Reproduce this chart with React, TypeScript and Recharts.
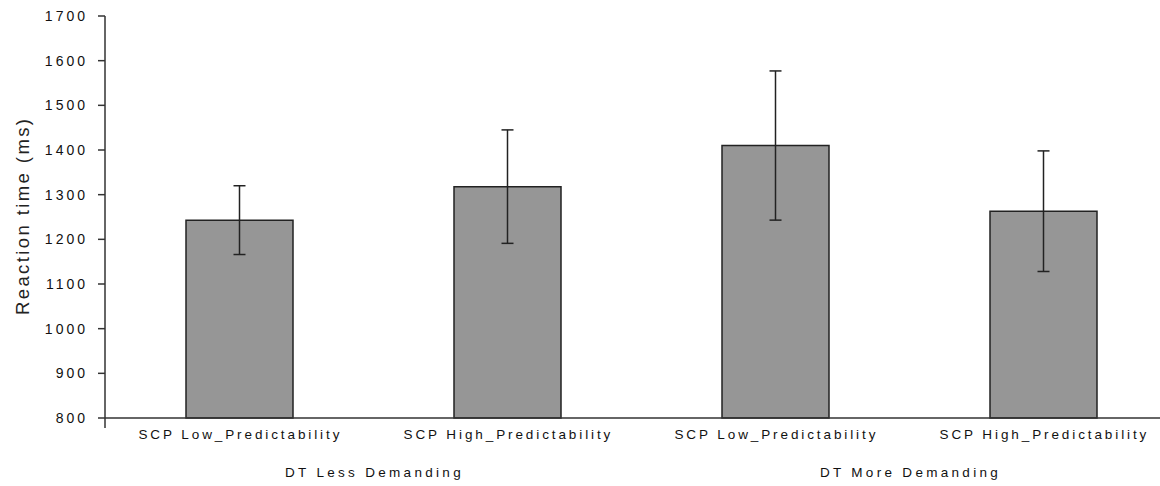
import { BarChart, Bar, XAxis, YAxis, ErrorBar } from 'recharts';

const categories = ['SCP Low_Predictability', 'SCP High_Predictability', 'SCP Low_Predictability', 'SCP High_Predictability'];
const groups = ['DT Less Demanding', 'DT Less Demanding', 'DT More Demanding', 'DT More Demanding'];
const meanRT = [1243, 1318, 1410, 1263];
const errRT = [77, 127, 167, 135];
const yTicks = [800, 900, 1000, 1100, 1200, 1300, 1400, 1500, 1600, 1700];

const data = categories.map((c, i) => ({ cat: c, group: groups[i], rt: meanRT[i], err: errRT[i] }));

const font = '"Liberation Sans", Arial, sans-serif';

const CatTick = (props: any) => {
  const { x, y, payload, index } = props;
  const half = payload && payload.offset ? payload.offset : 134;
  return (
    <g>
      <text x={x} y={y + 21} dx={1.4} textAnchor="middle" fontSize={13.5} letterSpacing={2.9} fill="#111" fontFamily={font}>
        {payload.value}
      </text>
      {index === 0 && <line x1={x - half} x2={x - half} y1={y} y2={y + 10} stroke="#333" strokeWidth={1.5} />}
    </g>
  );
};

const GroupTick = (props: any) => {
  const { x, y, payload } = props;
  return (
    <text x={x} y={y + 29} dx={1.5} textAnchor="middle" fontSize={13.5} letterSpacing={3.3} fill="#111" fontFamily={font}>
      {payload.value}
    </text>
  );
};

const YLabel = (props: any) => {
  const vb = props.viewBox;
  const cx = vb.x + 22;
  const cy = vb.y + vb.height / 2;
  return (
    <text x={cx} y={cy} dx={1.2} textAnchor="middle" dominantBaseline="central" fontSize={18.5} letterSpacing={2.4} fill="#222" fontFamily={font} transform={`rotate(-90, ${cx}, ${cy})`}>
      Reaction time (ms)
    </text>
  );
};

const App = () => {
  return (
    <div style={{ position: 'fixed', left: 0, top: 0, width: 1160, height: 486, overflow: 'hidden', background: '#fff' }}>
      <BarChart width={1180} height={486} data={data} margin={{ top: 16, right: 3, bottom: 8, left: 0 }} barSize={107}>
        <XAxis
          xAxisId="cat"
          dataKey="cat"
          height={30}
          tickSize={0}
          tickMargin={0}
          tickLine={false}
          axisLine={{ stroke: '#333', strokeWidth: 1.5 }}
          tick={<CatTick />}
          interval={0}
        />
        <XAxis
          xAxisId="grp"
          dataKey="group"
          allowDuplicatedCategory={false}
          height={30}
          tickSize={0}
          tickMargin={0}
          tickLine={false}
          axisLine={false}
          tick={<GroupTick />}
          interval={0}
        />
        <YAxis
          width={105}
          domain={[800, 1700]}
          ticks={yTicks}
          interval={0}
          tickSize={7}
          tickMargin={10}
          axisLine={{ stroke: '#333', strokeWidth: 1.5 }}
          tickLine={{ stroke: '#333', strokeWidth: 1.5 }}
          tick={{ fontSize: 14, letterSpacing: 3, fill: '#111', fontFamily: font }}
          label={<YLabel />}
        />
        <Bar xAxisId="cat" dataKey="rt" fill="#969696" stroke="#222" strokeWidth={1.5} isAnimationActive={false}>
          <ErrorBar dataKey="err" width={6} stroke="#222" strokeWidth={1.5} />
        </Bar>
      </BarChart>
    </div>
  );
};

export default App;
